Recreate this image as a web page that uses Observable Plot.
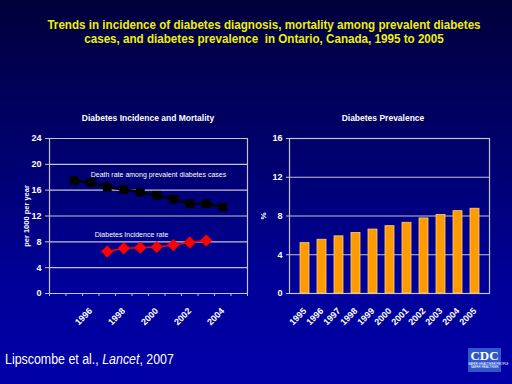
<!DOCTYPE html>
<html><head><meta charset="utf-8">
<script src="https://cdn.jsdelivr.net/npm/d3@7"></script>
<script src="https://cdn.jsdelivr.net/npm/@observablehq/plot@0.6"></script>
<style>
html,body{margin:0;padding:0;}
body{width:512px;height:384px;overflow:hidden;position:relative;
  background:linear-gradient(#00003a 0%, #000068 35%, #00009a 75%, #0000a8 100%);
  font-family:"Liberation Sans",Arial,sans-serif;}
.abs{position:absolute;}
#title{left:0;width:528px;top:18px;text-align:center;color:#f0f000;font-weight:bold;font-size:13px;line-height:14px;transform:scaleX(0.895);transform-origin:264px 0;}
.sub{color:#fff;font-weight:bold;font-size:8.5px;text-align:center;width:256px;top:113px;}
#foot{left:5px;top:350px;color:#fff;font-size:15.5px;transform:scaleX(0.8);transform-origin:0 0;white-space:nowrap;}
#logo{left:468px;top:348px;width:33px;height:24px;background:#3058cc;color:#fff;text-align:center;font-family:"Liberation Serif",serif;font-weight:bold;font-size:13px;line-height:15px;}
#logo small{display:block;font-family:"Liberation Sans",sans-serif;font-size:3px;line-height:3px;font-weight:normal;}
</style></head>
<body>
<div id="title" class="abs">Trends in incidence of diabetes diagnosis, mortality among prevalent diabetes<br>cases, and diabetes prevalence&nbsp; in Ontario, Canada, 1995 to 2005</div>
<div class="abs sub" style="left:20px">Diabetes Incidence and Mortality</div>
<div class="abs sub" style="left:255px">Diabetes Prevalence</div>
<div id="left" class="abs" style="left:0;top:100px"></div>
<div id="right" class="abs" style="left:256px;top:100px"></div>
<div id="foot" class="abs">Lipscombe et al., <i>Lancet</i>, 2007</div>
<div id="logo" class="abs">CDC<small>SAFER·HEALTHIER·PEOPLE<br>SAFER·HEALTHIER</small></div>
<script>
// Data
const leftCategories = [1994,1995,1996,1997,1998,1999,2000,2001,2002,2003,2004,2005];
const leftTickLabels = [1996,1998,2000,2002,2004];
const mortalityYears = [1995,1996,1997,1998,1999,2000,2001,2002,2003,2004];
const mortalityRate = [17.5,17.2,16.5,16.1,15.7,15.2,14.6,13.9,13.9,13.4];
const incidenceYears = [1997,1998,1999,2000,2001,2002,2003];
const incidenceRate = [6.5,7.0,7.1,7.2,7.5,7.9,8.2];
const prevalenceYears = [1995,1996,1997,1998,1999,2000,2001,2002,2003,2004,2005];
const prevalencePct = [5.2,5.55,5.9,6.25,6.6,6.95,7.3,7.75,8.1,8.5,8.75];
const leftYTicks = [0,4,8,12,16,20,24];
const rightYTicks = [0,4,8,12,16];
const mortLabel = {text:"Death rate among prevalent diabetes cases", year:1996, value:18.4};
const incLabel = {text:"Diabetes Incidence rate", year:1996, value:9.15};

const mort = mortalityYears.map((y,i)=>({year:y, value:mortalityRate[i]}));
const inc = incidenceYears.map((y,i)=>({year:y, value:incidenceRate[i]}));
const prev = prevalenceYears.map((y,i)=>({year:String(y), value:prevalencePct[i]}));
const bounds = leftCategories.map(y=>y-0.5).concat([leftCategories[leftCategories.length-1]+0.5]);

const font = '"Liberation Sans", Arial, sans-serif';
const grid = "#c4c4cc";

const left = Plot.plot({
  width:256, height:240,
  marginLeft:49, marginRight:9, marginTop:38, marginBottom:47,
  style:{background:"transparent", color:"white", fontFamily:font, fontSize:"9px", fontWeight:"bold", overflow:"visible"},
  x:{type:"linear", domain:[bounds[0], bounds[bounds.length-1]]},
  y:{domain:[0,24]},
  marks:[
    Plot.gridY(leftYTicks.slice(1), {stroke:grid, strokeOpacity:1, strokeWidth:1.2}),
    Plot.ruleX([bounds[bounds.length-1]], {stroke:grid, strokeWidth:1.2}),
    Plot.ruleX([bounds[0]], {stroke:grid, strokeWidth:1.2}),
    Plot.ruleY([0], {stroke:grid, strokeWidth:1.2}),
    Plot.axisY({ticks:leftYTicks, tickSize:4, tickPadding:4, label:null, stroke:grid}),
    Plot.axisX({ticks:bounds, tickSize:3, tickFormat:()=>"", label:null, stroke:grid}),
    Plot.axisX({ticks:leftTickLabels, tickSize:0, tickPadding:16, tickRotate:-45, tickFormat:d=>String(d), label:null, fontSize:9}),
    Plot.text(["per 1000 per year"], {frameAnchor:"left", textAnchor:"middle", rotate:-90, dx:-23, fill:"white", fontSize:7.5}),
    Plot.line(mort, {x:"year", y:"value", stroke:"black", strokeWidth:2.5}),
    Plot.dot(mort, {x:"year", y:"value", symbol:"square", fill:"black", r:5}),
    Plot.line(inc, {x:"year", y:"value", stroke:"#ff0000", strokeWidth:1.5}),
    Plot.dot(inc, {x:"year", y:"value", symbol:"diamond2", fill:"#ff0000", r:5.5}),
    Plot.text([mortLabel], {x:"year", y:"value", text:"text", textAnchor:"start", fill:"white", fontWeight:"normal", fontSize:7}),
    Plot.text([incLabel], {x:"year", y:"value", text:"text", textAnchor:"start", fill:"white", fontWeight:"normal", fontSize:7, dx:4})
  ]
});
document.getElementById("left").appendChild(left);

const right = Plot.plot({
  width:256, height:240,
  marginLeft:33, marginRight:23, marginTop:38, marginBottom:47,
  style:{background:"transparent", color:"white", fontFamily:font, fontSize:"9px", fontWeight:"bold", overflow:"visible"},
  x:{type:"band", domain:prevalenceYears.map(String), padding:0.5},
  y:{domain:[0,16]},
  marks:[
    Plot.gridY(rightYTicks.slice(1), {stroke:grid, strokeOpacity:1, strokeWidth:1.2}),
    Plot.frame({stroke:grid, strokeWidth:1.2}),
    Plot.axisY({ticks:rightYTicks, tickSize:3, tickPadding:4, label:null, stroke:grid}),
    Plot.axisX({tickSize:0, tickPadding:16, tickRotate:-45, label:null, fontSize:9}),
    Plot.text(["%"], {frameAnchor:"left", textAnchor:"middle", rotate:-90, dx:-26, fill:"white", fontSize:8}),
    Plot.barY(prev, {x:"year", y:"value", fill:"#ff9a00", stroke:"#ffd080", strokeWidth:0.8})
  ]
});
document.getElementById("right").appendChild(right);
</script>
</body></html>
